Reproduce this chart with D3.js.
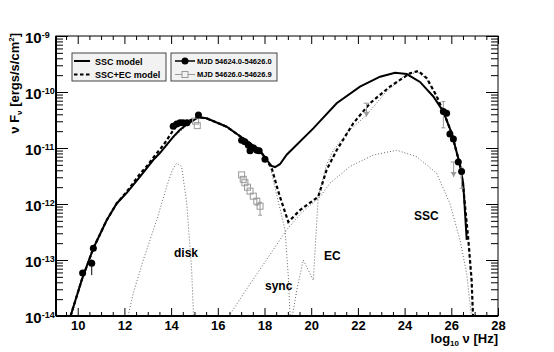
<!DOCTYPE html>
<html>
<head>
<meta charset="utf-8">
<script src="https://cdn.jsdelivr.net/npm/d3@7"></script>
<style>
body { margin: 0; background: #fff; }
svg text { font-family: "Liberation Sans", Arial, Helvetica, sans-serif; font-weight: bold; }
</style>
</head>
<body>
<svg id="chart" width="554" height="352"></svg>
<script>
// all values are [log10 nu (Hz), log10 nuFnu (ergs/s/cm2)]

// SSC-only fit (solid)
var sscModel = [[9.62,-14.1],[10.17,-13.36],[10.67,-12.79],[11.24,-12.29],[11.67,-11.99],[12.1,-11.8],
  [12.67,-11.51],[13.24,-11.21],[13.52,-11.09],[14.09,-10.8],[14.37,-10.68],[14.67,-10.58],[15.17,-10.45],
  [15.52,-10.47],[16.38,-10.62],[17.09,-10.83],[17.8,-11.04],[18.09,-11.21],[18.3,-11.32],[18.45,-11.34],
  [18.66,-11.29],[18.95,-11.12],[20.09,-10.65],[21.09,-10.2],[22.09,-9.905],[22.95,-9.727],[23.59,-9.655],
  [24.09,-9.68],[24.66,-9.82],[25.23,-10.08],[25.66,-10.35],[26.02,-10.74],[26.37,-11.3],[26.51,-11.63],[26.66,-12.64]];

// SSC+EC fit (dashed)
var sscEcModel = [[9.62,-14.1],[10.17,-13.36],[10.67,-12.79],[11.24,-12.29],[11.67,-11.99],[12.1,-11.78],
  [12.67,-11.46],[12.95,-11.33],[13.31,-11.13],[13.67,-10.95],[14.03,-10.72],[14.24,-10.6],[14.6,-10.54],
  [15.17,-10.45],[15.52,-10.47],[16.38,-10.62],[17.09,-10.83],[17.8,-11.04],[18.09,-11.22],[18.31,-11.36],
  [18.53,-11.69],[18.66,-11.87],[19.02,-12.32],[19.52,-12.11],[20.3,-11.87],[20.66,-11.39],[21.09,-11.04],
  [21.8,-10.56],[22.52,-10.2],[23.37,-9.905],[24.23,-9.666],[24.59,-9.625],[24.95,-9.755],[25.38,-10.08],
  [25.66,-10.35],[26.02,-10.74],[26.37,-11.3],[26.51,-11.69],[26.73,-12.64],[26.87,-13.36],[26.94,-14.1]];

// components of the SSC+EC fit (dotted)
var diskComp = [[12.1,-14.1],[12.38,-13.59],[12.81,-13.0],[13.38,-12.29],[13.81,-11.69],[14.05,-11.4],
  [14.24,-11.27],[14.45,-11.33],[14.67,-11.99],[14.88,-13.18],[14.97,-14.1]];
var syncComp = [[9.62,-14.1],[10.17,-13.36],[10.67,-12.79],[11.24,-12.29],[11.67,-11.99],[12.1,-11.8],
  [12.67,-11.51],[13.24,-11.22],[13.52,-11.1],[14.09,-10.82],[14.67,-10.6],[15.17,-10.46],[15.52,-10.48],
  [16.38,-10.63],[17.09,-10.84],[17.8,-11.05],[18.09,-11.2],[18.24,-11.32],[18.5,-11.8],[18.88,-12.46],
  [19.02,-13.3],[19.09,-13.95],[19.12,-14.1]];
var ecComp = [[19.15,-14.1],[19.4,-13.5],[19.66,-13.0],[20.09,-13.36],[20.3,-11.87],[20.66,-11.3],
  [20.95,-11.04],[21.6,-10.7],[22.37,-10.41],[23.2,-10.0],[23.94,-9.73],[24.55,-9.64],[24.95,-9.77],
  [25.38,-10.1],[25.66,-10.37],[26.02,-10.77],[26.37,-11.32],[26.51,-11.72],[26.73,-12.7],[26.87,-13.45],[26.92,-14.1]];
var sscComp = [[16.4,-14.05],[17.2,-13.54],[18.0,-13.05],[18.95,-12.46],[19.6,-12.15],[20.38,-11.87],
  [20.8,-11.63],[21.66,-11.33],[22.66,-11.125],[23.66,-11.04],[24.52,-11.155],[25.37,-11.45],[25.94,-11.99],
  [26.37,-12.64],[26.66,-13.24],[26.87,-14.05]];

// MJD 54624.0-54626.0 (filled circles)
var obsA = [[10.21,-13.23],[10.6,-13.06],[10.67,-12.79],
  [14.09,-10.61],[14.24,-10.57],[14.38,-10.55],[14.51,-10.55],[14.68,-10.55],[15.17,-10.41],
  [17.02,-10.86],[17.16,-10.89],[17.31,-10.95],[17.38,-11.05],[17.52,-11.0],[17.67,-11.04],[17.77,-11.05],[18.02,-11.2],
  [25.66,-10.35],[25.8,-10.38],[25.94,-10.75],[26.09,-10.84],[26.3,-11.25],[26.44,-11.42]];
var obsAErr = [[10.6,-12.99,-13.27]];

// MJD 54626.0-54626.9 (open squares)
var obsB = [[15.05,-10.52],[15.12,-10.6],
  [17.02,-11.48],[17.09,-11.56],[17.16,-11.62],[17.27,-11.7],[17.38,-11.77],[17.52,-11.86],[17.67,-11.95],[17.81,-12.04]];
var obsBErr = [[17.67,-11.9,-12.02],[17.81,-11.97,-12.2],[25.66,-10.17,-10.64],[26.44,-11.36,-11.72]];
var obsBLimits = [[22.37,-10.2,-10.44],[26.1,-11.25,-11.52]];

var xMajor = [10,12,14,16,18,20,22,24,26,28];
var yDecades = [-14,-13,-12,-11,-10,-9];

var compLabels = [["disk",174,257],["sync",265,290],["EC",324,260],["SSC",414,220]];

var svg = d3.select("#chart");
var L = 56, R = 498, T = 36, B = 316;

var x = d3.scaleLinear().domain([9.07, 28]).range([L, R]);
var y = d3.scaleLog().domain([1e-14, 1e-9]).range([B, T]);
function px(d) { return x(d[0]); }
function py(d) { return y(Math.pow(10, d[1])); }
var line = d3.line().x(px).y(py);

svg.append("clipPath").attr("id", "clip")
  .append("rect").attr("x", L).attr("y", T).attr("width", R - L).attr("height", B - T);

var plot = svg.append("g").attr("clip-path", "url(#clip)");

[diskComp, syncComp, ecComp, sscComp].forEach(function(c) {
  plot.append("path").datum(c).attr("d", line)
    .attr("fill", "none").attr("stroke", "#666").attr("stroke-width", 1).attr("stroke-dasharray", "1,2");
});

plot.append("path").datum(sscModel).attr("d", line)
  .attr("fill", "none").attr("stroke", "#000").attr("stroke-width", 2);
plot.append("path").datum(sscEcModel).attr("d", line)
  .attr("fill", "none").attr("stroke", "#000").attr("stroke-width", 2.2).attr("stroke-dasharray", "3.5,2.5");

// gray error bars / upper limits
var gray = "#999";
obsBErr.forEach(function(e) {
  var g = plot.append("g").attr("stroke", gray).attr("stroke-width", 1);
  g.append("line").attr("x1", x(e[0])).attr("x2", x(e[0])).attr("y1", py([0, e[1]])).attr("y2", py([0, e[2]]));
  g.append("line").attr("x1", x(e[0]) - 2).attr("x2", x(e[0]) + 2).attr("y1", py([0, e[1]])).attr("y2", py([0, e[1]]));
  g.append("line").attr("x1", x(e[0]) - 2).attr("x2", x(e[0]) + 2).attr("y1", py([0, e[2]])).attr("y2", py([0, e[2]]));
});
obsBLimits.forEach(function(e) {
  var xx = x(e[0]), y1 = py([0, e[1]]), y2 = py([0, e[2]]);
  var g = plot.append("g").attr("stroke", gray).attr("stroke-width", 1);
  g.append("line").attr("x1", xx).attr("x2", xx).attr("y1", y1).attr("y2", y2);
  g.append("line").attr("x1", xx - 3).attr("x2", xx + 3).attr("y1", y1).attr("y2", y1);
  plot.append("path").attr("d", "M" + (xx - 3) + "," + (y2 - 5) + "L" + (xx + 3) + "," + (y2 - 5) + "L" + xx + "," + y2 + "Z")
    .attr("fill", gray);
});

plot.selectAll(".sq").data(obsB).enter().append("rect").attr("class", "sq")
  .attr("x", function(d) { return px(d) - 3; }).attr("y", function(d) { return py(d) - 3; })
  .attr("width", 6).attr("height", 6)
  .attr("fill", "none").attr("stroke", gray).attr("stroke-width", 1);

obsAErr.forEach(function(e) {
  plot.append("line").attr("x1", x(e[0])).attr("x2", x(e[0])).attr("y1", py([0, e[1]])).attr("y2", py([0, e[2]]))
    .attr("stroke", "#000").attr("stroke-width", 1);
});
plot.selectAll(".dot").data(obsA).enter().append("circle").attr("class", "dot")
  .attr("cx", px).attr("cy", py).attr("r", 3.5).attr("fill", "#000");

// component labels
svg.selectAll(".clab").data(compLabels).enter().append("text").attr("class", "clab")
  .attr("x", function(d) { return d[1]; }).attr("y", function(d) { return d[2]; })
  .attr("font-size", 12).text(function(d) { return d[0]; });

// axes
var xMinor = d3.range(9.5, 28, 0.5).filter(function(v) { return xMajor.indexOf(v) < 0; });
var yMinor = y.ticks().filter(function(v) { return Math.abs(Math.log10(v) - Math.round(Math.log10(v))) > 1e-6; });
var yMajor = yDecades.map(function(d) { return Math.pow(10, d); });

var xb = svg.append("g").attr("transform", "translate(0," + B + ")")
  .call(d3.axisBottom(x).tickValues(xMajor).tickSize(-8).tickPadding(5).tickFormat(d3.format("d")));
xb.selectAll("text").attr("font-size", 13).attr("font-family", null).attr("fill", "#000");
svg.append("g").attr("transform", "translate(0," + B + ")")
  .call(d3.axisBottom(x).tickValues(xMinor).tickSize(-4).tickFormat(""));
svg.append("g").attr("transform", "translate(0," + T + ")")
  .call(d3.axisTop(x).tickValues(xMajor).tickSize(-8).tickFormat(""));
svg.append("g").attr("transform", "translate(0," + T + ")")
  .call(d3.axisTop(x).tickValues(xMinor).tickSize(-4).tickFormat(""));

svg.append("g").attr("transform", "translate(" + L + ",0)")
  .call(d3.axisLeft(y).tickValues(yMajor).tickSize(-12).tickFormat(""));
svg.append("g").attr("transform", "translate(" + L + ",0)")
  .call(d3.axisLeft(y).tickValues(yMinor).tickSize(-7).tickFormat(""));
svg.append("g").attr("transform", "translate(" + R + ",0)")
  .call(d3.axisRight(y).tickValues(yMajor).tickSize(-12).tickFormat(""));
svg.append("g").attr("transform", "translate(" + R + ",0)")
  .call(d3.axisRight(y).tickValues(yMinor).tickSize(-7).tickFormat(""));
svg.selectAll(".domain").remove();

svg.append("rect").attr("x", L).attr("y", T).attr("width", R - L).attr("height", B - T)
  .attr("fill", "none").attr("stroke", "#000").attr("stroke-width", 1);
svg.append("line").attr("x1", L).attr("x2", R).attr("y1", B).attr("y2", B).attr("stroke", "#000").attr("stroke-width", 2);
svg.append("line").attr("x1", L).attr("x2", L).attr("y1", T).attr("y2", B).attr("stroke", "#000").attr("stroke-width", 2);

// y tick labels 10^n
yDecades.forEach(function(d) {
  var t = svg.append("text").attr("x", 25).attr("y", y(Math.pow(10, d)) + 7).attr("font-size", 15);
  t.append("tspan").text("10");
  t.append("tspan").attr("font-size", 9).attr("dy", -5.5).text(d);
});

// axis titles
var xt = svg.append("text").attr("x", R).attr("y", 343).attr("text-anchor", "end").attr("font-size", 13);
xt.append("tspan").text("log");
xt.append("tspan").attr("font-size", 8).attr("dy", 3).text("10");
xt.append("tspan").attr("dy", -3).text(" \u03bd [Hz]");

var yt = svg.append("text").attr("transform", "translate(19," + 33 + ") rotate(-90)")
  .attr("text-anchor", "end").attr("font-size", 13);
yt.append("tspan").text("\u03bd F");
yt.append("tspan").attr("font-size", 8).attr("dy", 3).text("\u03bd");
yt.append("tspan").attr("dy", -3).text(" [ergs/s/cm");
yt.append("tspan").attr("font-size", 8).attr("dy", -5).text("2");
yt.append("tspan").attr("dy", 5).text("]");

// legends
var lg1 = svg.append("g");
lg1.append("rect").attr("x", 72).attr("y", 53).attr("width", 94).attr("height", 28)
  .attr("fill", "#f2f2f2").attr("stroke", "#444").attr("stroke-width", 1);
lg1.append("line").attr("x1", 74).attr("x2", 90).attr("y1", 61).attr("y2", 61).attr("stroke", "#000").attr("stroke-width", 2);
lg1.append("line").attr("x1", 74).attr("x2", 90).attr("y1", 74.5).attr("y2", 74.5).attr("stroke", "#000")
  .attr("stroke-width", 2).attr("stroke-dasharray", "3.5,2.5");
lg1.append("text").attr("x", 95).attr("y", 64.5).attr("font-size", 9).text("SSC model");
lg1.append("text").attr("x", 95).attr("y", 78).attr("font-size", 9).text("SSC+EC model");

var lg2 = svg.append("g");
lg2.append("rect").attr("x", 171).attr("y", 53).attr("width", 106).attr("height", 28)
  .attr("fill", "#f2f2f2").attr("stroke", "#444").attr("stroke-width", 1);
lg2.append("line").attr("x1", 175).attr("x2", 195).attr("y1", 61).attr("y2", 61).attr("stroke", "#000").attr("stroke-width", 1.5);
lg2.append("circle").attr("cx", 185).attr("cy", 61).attr("r", 3.5).attr("fill", "#000");
lg2.append("line").attr("x1", 175).attr("x2", 195).attr("y1", 74.5).attr("y2", 74.5).attr("stroke", gray).attr("stroke-width", 1);
lg2.append("rect").attr("x", 182).attr("y", 71.5).attr("width", 6).attr("height", 6)
  .attr("fill", "#f2f2f2").attr("stroke", gray);
lg2.append("text").attr("x", 197).attr("y", 63.5).attr("font-size", 7.5).text("MJD 54624.0-54626.0");
lg2.append("text").attr("x", 197).attr("y", 77).attr("font-size", 7.5).text("MJD 54626.0-54626.9");
</script>
</body>
</html>
